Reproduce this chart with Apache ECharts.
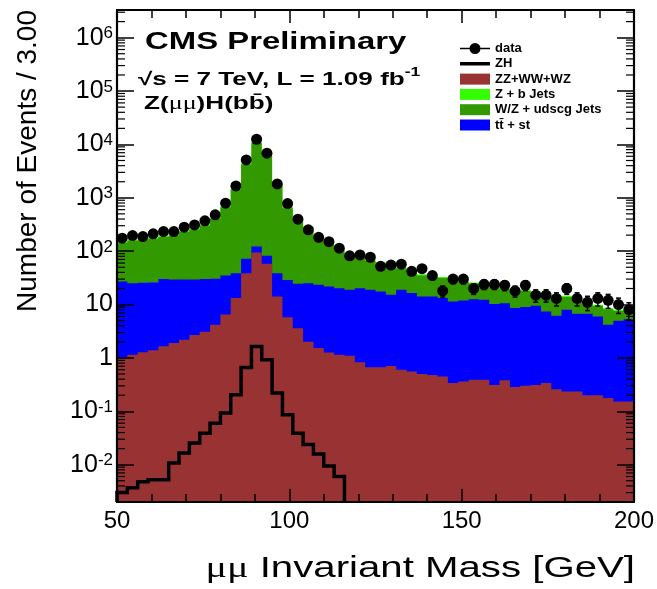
<!DOCTYPE html>
<html><head><meta charset="utf-8">
<script src="https://cdn.jsdelivr.net/npm/echarts@6/dist/echarts.min.js"></script>
<style>html,body{margin:0;padding:0;background:#fff}#c{width:657px;height:589px}</style>
</head><body><div id="c"></div>
<script>
// ---- data ----
const binLow = [50,53,56,59,62,65,68,71,74,77,80,83,86,89,92,95,98,101,104,107,110,113,116,119,122,125,128,131,134,137,140,143,146,149,152,155,158,161,164,167,170,173,176,179,182,185,188,191,194,197];
const binWidth = 3;
const dataCounts = [175,196,188,211,233,233,282,311,370,479,795,1670,5130,12500,6850,1820,780,398,251,182,151,114,82,85,77,52,55,57,42,47,35,18,30,30,20,24,24,23,18,23,15,15,13,20,13,11,13,12,10,8];
const dataErr = [13.2,14,13.7,14.5,15.3,15.3,16.8,17.6,19.2,21.9,28.2,40.9,71.6,111.8,82.8,42.7,27.9,20,15.8,13.5,12.3,10.7,9.1,9.2,8.8,7.2,7.4,7.5,6.5,6.9,5.9,4.2,5.5,5.5,4.5,4.9,4.9,4.8,4.2,4.8,3.9,3.9,3.6,4.5,3.6,3.3,3.6,3.5,3.2,2.8];
// cumulative stack levels (top of each stacked component)
const stackZZ = [1.0,1.15,1.28,1.4,1.65,1.9,2.2,2.7,3.1,4.2,6.5,13.2,38.8,94,58,14.1,5.8,3.6,2.0,1.53,1.26,1.15,1.1,0.83,0.67,0.67,0.71,0.60,0.56,0.50,0.48,0.45,0.34,0.36,0.39,0.39,0.31,0.38,0.285,0.30,0.31,0.34,0.26,0.235,0.235,0.20,0.20,0.177,0.153,0.153];
const stackTT = [27,25,25.5,26,30,29.5,29.5,29.5,30,30.5,35,38.8,72,122,82,38.8,29,24.5,25,23.4,21.8,20.3,18.9,20.3,19,17.6,15.2,18.9,16.4,14.1,14.1,13.2,11.4,11.9,12.6,12.3,10.3,10.6,8.6,9.0,9.5,7.4,6.2,8,6.7,6.7,6.0,4.2,5.0,5.3];
const stackWZ = [142,157,160,171,185,195,228,256,304,399,665,1425,4230,10700,6970,1790,636,367,275,179,130,104,87,75,65.5,59,53,47.5,40,35,32,31.4,29.5,26.6,24.7,23.8,22.2,19.3,18,18,16.7,14.4,12.5,13.9,12,10.1,9.4,8.2,7.6,7.0];
const stackZb = [150,165,168,180,195,205,240,270,320,420,700,1500,4450,11300,7340,1880,670,386,289,188,137,110,92,79,69,62,56,50,42,37,33.5,33,31,28,26,25,23.4,20.3,18.9,18.9,17.6,15.2,13.2,14.6,12.6,10.6,9.9,8.6,8,7.4];
const zhSignal = [0.0030,0.0037,0.0048,0.0052,0.0052,0.0107,0.0165,0.0255,0.039,0.060,0.093,0.204,0.66,1.64,0.92,0.22,0.086,0.039,0.024,0.0158,0.0095,0.006];
const xTicks = [50,100,150,200];

// ---- chart ----
const Y_MIN = 0.002, Y_MAX = 3.3e6;
const FONT = "'Liberation Sans', Arial, Helvetica, sans-serif";
const chart = echarts.init(document.getElementById('c'), null, {renderer: 'canvas'});

function bandSeries(name, color, upper, z) {
  return {
    type: 'custom', name: name, z: z, silent: true,
    itemStyle: {color: color},
    data: [[binLow[0], upper[0]]],
    encode: {x: 0, y: 1},
    renderItem: function (params, api) {
      const pts = [];
      for (let i = 0; i < binLow.length; i++) {
        pts.push(api.coord([binLow[i], upper[i]]));
        pts.push(api.coord([binLow[i] + binWidth, upper[i]]));
      }
      pts.push(api.coord([binLow[binLow.length - 1] + binWidth, Y_MIN]));
      pts.push(api.coord([binLow[0], Y_MIN]));
      return {type: 'polygon', shape: {points: pts}, style: {fill: color}};
    }
  };
}

const minorVals = [];
for (let k = -3; k <= 6; k++) for (let m = 2; m <= 9; m++) {
  const v = m * Math.pow(10, k);
  if (v > Y_MIN && v < Y_MAX) minorVals.push([xTicks[0], v]);
}

function yLabel(v) {
  const lg = Math.log10(v), e = Math.round(lg);
  if (Math.abs(lg - e) > 1e-6) return '';
  if (e === 0) return '{p|1}';
  if (e === 1) return '{p|10}';
  return '{b|10}{s|' + e + '}';
}

const axisLineStyle = {color: '#000', width: 2.2};
const tickLine = {color: '#000', width: 1.5};

const option = {
  backgroundColor: '#fff',
  animation: false,
  grid: {left: 117, right: 22, top: 10, bottom: 87, containLabel: false},
  xAxis: [
    {type: 'value', min: xTicks[0], max: xTicks[xTicks.length - 1], interval: 50, position: 'bottom', z: 5,
     axisLine: {show: true, onZero: false, lineStyle: axisLineStyle},
     axisTick: {show: true, inside: true, length: 13, lineStyle: tickLine},
     minorTick: {show: true, splitNumber: 5, length: 8, lineStyle: tickLine},
     splitLine: {show: false}, minorSplitLine: {show: false},
     axisLabel: {show: true, fontSize: 24, color: '#000', margin: 7, fontFamily: FONT}},
    {type: 'value', min: xTicks[0], max: xTicks[xTicks.length - 1], interval: 50, position: 'top', z: 5,
     axisLine: {show: true, onZero: false, lineStyle: axisLineStyle},
     axisTick: {show: true, inside: true, length: 13, lineStyle: tickLine},
     minorTick: {show: true, splitNumber: 5, length: 8, lineStyle: tickLine},
     splitLine: {show: false}, axisLabel: {show: false}}
  ],
  yAxis: [
    {type: 'log', logBase: 10, min: Y_MIN, max: Y_MAX, position: 'left', z: 5,
     axisLine: {show: true, onZero: false, lineStyle: axisLineStyle},
     axisTick: {show: true, inside: true, length: 17, lineStyle: tickLine},
     splitLine: {show: false}, minorTick: {show: false},
     axisLabel: {show: true, margin: 4, color: '#000', formatter: yLabel,
       rich: {
         p: {fontSize: 25, fontFamily: FONT, color: '#000', lineHeight: 25},
         b: {fontSize: 25, fontFamily: FONT, color: '#000', lineHeight: 25, padding: [5, 0, 0, 0], verticalAlign: 'bottom'},
         s: {fontSize: 17, fontFamily: FONT, color: '#000', lineHeight: 17, verticalAlign: 'top'}
       }}},
    {type: 'log', logBase: 10, min: Y_MIN, max: Y_MAX, position: 'right', z: 5,
     axisLine: {show: true, onZero: false, lineStyle: axisLineStyle},
     axisTick: {show: true, inside: true, length: 17, lineStyle: tickLine},
     splitLine: {show: false}, minorTick: {show: false}, axisLabel: {show: false}}
  ],
  legend: {
    left: 455, top: 37, orient: 'vertical', itemWidth: 30, itemHeight: 11, itemGap: 2.3,
    selectedMode: false,
    textStyle: {fontSize: 13, fontWeight: 'bold', fontFamily: FONT, color: '#000', lineHeight: 13},
    data: [
      {name: 'data', icon: 'path://M0,4.8h30v1.4h-30z M15,0a5.5,5.5 0 1,1 0,11a5.5,5.5 0 1,1 0,-11z'},
      {name: 'ZH', icon: 'path://M0,0h0.01v0.01h-0.01z M0,3.75h30v3.5h-30z M29.99,10.99h0.01v0.01h-0.01z'},
      {name: 'ZZ+WW+WZ', icon: 'rect'},
      {name: 'Z + b Jets', icon: 'rect'},
      {name: 'W/Z + udscg Jets', icon: 'rect'},
      {name: 'tt\u0304 + st', icon: 'rect'}
    ]
  },
  series: [
    bandSeries('Z + b Jets', '#33ff00', stackZb, 2),
    bandSeries('W/Z + udscg Jets', '#339900', stackWZ, 2),
    bandSeries('tt\u0304 + st', '#0000ff', stackTT, 2),
    bandSeries('ZZ+WW+WZ', '#993333', stackZZ, 2),
    {
      type: 'custom', name: 'ZH', z: 3, silent: true,
      itemStyle: {color: '#000'},
      data: [[binLow[0], zhSignal[0]]],
      encode: {x: 0, y: 1},
      renderItem: function (params, api) {
        const pts = [api.coord([binLow[0], Y_MIN])];
        for (let i = 0; i < zhSignal.length; i++) {
          pts.push(api.coord([binLow[i], zhSignal[i]]));
          pts.push(api.coord([binLow[i] + binWidth, zhSignal[i]]));
        }
        pts.push(api.coord([binLow[zhSignal.length - 1] + binWidth, Y_MIN]));
        return {type: 'polyline', shape: {points: pts}, style: {stroke: '#000', lineWidth: 3.5, fill: null, lineJoin: 'miter'}};
      }
    },
    {
      type: 'custom', name: 'data', z: 4, silent: true,
      itemStyle: {color: '#000'},
      data: binLow.map(function (x, i) { return [x + binWidth / 2, dataCounts[i], dataErr[i]]; }),
      encode: {x: 0, y: 1},
      renderItem: function (params, api) {
        const x = api.value(0), v = api.value(1), e = api.value(2);
        const c = api.coord([x, v]), hi = api.coord([x, v + e]), lo = api.coord([x, v - e]);
        const st = {stroke: '#000', lineWidth: 1.5};
        return {type: 'group', children: [
          {type: 'line', shape: {x1: c[0], y1: lo[1], x2: c[0], y2: hi[1]}, style: st},
          {type: 'line', shape: {x1: c[0] - 2.5, y1: lo[1], x2: c[0] + 2.5, y2: lo[1]}, style: st},
          {type: 'line', shape: {x1: c[0] - 2.5, y1: hi[1], x2: c[0] + 2.5, y2: hi[1]}, style: st},
          {type: 'circle', shape: {cx: c[0], cy: c[1], r: 5.5}, style: {fill: '#000'}}
        ]};
      }
    },
    {
      type: 'custom', name: 'minorTicks', z: 6, silent: true,
      data: minorVals, encode: {x: 0, y: 1},
      renderItem: function (params, api) {
        const cs = params.coordSys;
        const p = api.coord(api.value(0) !== undefined ? [api.value(0), api.value(1)] : [0, 0]);
        const st = {stroke: '#000', lineWidth: 1.2};
        return {type: 'group', children: [
          {type: 'line', shape: {x1: cs.x, y1: p[1], x2: cs.x + 8, y2: p[1]}, style: st},
          {type: 'line', shape: {x1: cs.x + cs.width - 8, y1: p[1], x2: cs.x + cs.width, y2: p[1]}, style: st}
        ]};
      }
    }
  ],
  graphic: [
    {type: 'text', x: 145, y: 42, scaleX: 1.37, z: 10,
     style: {text: 'CMS Preliminary', fontSize: 24, fontWeight: 'bold', fontFamily: FONT, fill: '#000',
             textAlign: 'left', align: 'left', textVerticalAlign: 'middle', verticalAlign: 'middle'}},
    {type: 'text', x: 138, y: 78, scaleX: 1.45, z: 10,
     style: {text: '{a|\u221As = 7 TeV, L = 1.09 fb}{s|-1}', fill: '#000',
             textAlign: 'left', align: 'left', textVerticalAlign: 'middle', verticalAlign: 'middle',
             rich: {a: {fontSize: 18, fontWeight: 'bold', fontFamily: FONT, lineHeight: 23, verticalAlign: 'bottom'},
                    s: {fontSize: 12, fontWeight: 'bold', fontFamily: FONT, lineHeight: 12, verticalAlign: 'top'}}}},
    {type: 'text', x: 144, y: 104, scaleX: 1.45, z: 10,
     style: {text: '{b|Z(}{m|\u03BC\u03BC}{b|)H(bb\u0304)}', fill: '#000',
             textAlign: 'left', align: 'left', textVerticalAlign: 'middle', verticalAlign: 'middle',
             rich: {b: {fontSize: 18, fontWeight: 'bold', fontFamily: FONT},
                    m: {fontSize: 18, fontFamily: "'Liberation Serif', serif"}}}},
    {type: 'text', x: 635, y: 569, scaleX: 1.34, z: 10,
     style: {text: '{m|\u03BC\u03BC} Invariant Mass [GeV]', fill: '#000', fontSize: 30, fontFamily: FONT,
             textAlign: 'right', align: 'right', textVerticalAlign: 'middle', verticalAlign: 'middle',
             rich: {m: {fontSize: 30, fontFamily: "'Liberation Serif', serif"}}}},
    {type: 'text', x: 28, y: 10, rotation: Math.PI / 2, z: 10,
     style: {text: 'Number of Events / 3.00', fontSize: 28, fontFamily: FONT, fill: '#000',
             textAlign: 'right', align: 'right', textVerticalAlign: 'middle', verticalAlign: 'middle'}}
  ]
};
chart.setOption(option);
</script>
</body></html>
